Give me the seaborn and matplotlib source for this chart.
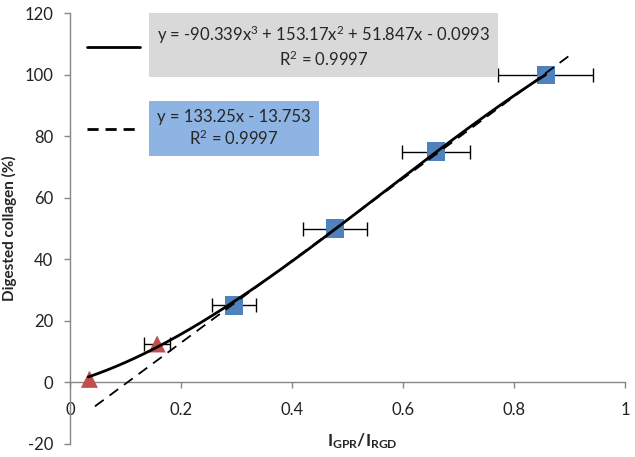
import numpy as np
import pandas as pd
import matplotlib.pyplot as plt
import seaborn as sns
from matplotlib.lines import Line2D

# data
ratio_tri = [0.035, 0.157]
digested_tri = [1.0, 12.5]
xerr_tri = [0.0, 0.023]

ratio_sq = [0.295, 0.478, 0.660, 0.857]
digested_sq = [25, 50, 75, 100]
xerr_sq = [0.040, 0.058, 0.061, 0.085]

# trendline coefficients as printed on the chart
cubic_coef = [-90.339, 153.17, 51.847, -0.0993]
linear_coef = [133.25, -13.753]
cubic_range = [0.033, 0.857]
linear_range = [0.045, 0.905]

sns.set_style("white")
plt.rcParams['font.family'] = ['Lato', 'DejaVu Sans']
plt.rcParams['axes.unicode_minus'] = False
plt.rcParams['mathtext.fontset'] = 'custom'
plt.rcParams['mathtext.rm'] = 'Lato'
plt.rcParams['mathtext.it'] = 'Lato:italic'
plt.rcParams['mathtext.bf'] = 'Lato:bold'

fig = plt.figure(figsize=(6.35, 4.57), dpi=100)
ax = fig.add_axes([70 / 635, 1 - 444 / 457, 555 / 635, 431 / 457])

# error bars (under the markers)
ax.errorbar(ratio_tri, digested_tri, xerr=xerr_tri, fmt='none', ecolor='black',
            elinewidth=1, capsize=5, capthick=1, zorder=2)
ax.errorbar(ratio_sq, digested_sq, xerr=xerr_sq, fmt='none', ecolor='black',
            elinewidth=1, capsize=5, capthick=1, zorder=2)

tri_df = pd.DataFrame({"ratio": ratio_tri, "digested": digested_tri})
sq_df = pd.DataFrame({"ratio": ratio_sq, "digested": digested_sq})
sns.scatterplot(data=tri_df, x="ratio", y="digested", marker="^", s=150,
                color="#c0504d", edgecolor="none", ax=ax, zorder=3)
sns.scatterplot(data=sq_df, x="ratio", y="digested", marker="s", s=170,
                color="#4f81bd", edgecolor="none", ax=ax, zorder=3)

# trendlines
xc = np.linspace(cubic_range[0], cubic_range[1], 200)
xl = np.linspace(linear_range[0], linear_range[1], 50)
ax.plot(xl, np.polyval(linear_coef, xl), color="black", lw=1.3, ls=(0, (6, 4)), zorder=4)
ax.plot(xc, np.polyval(cubic_coef, xc), color="black", lw=2, zorder=5)

ax.set_xlim(0, 1)
ax.set_ylim(-20, 120)
ax.set_xticks([0, 0.2, 0.4, 0.6, 0.8, 1])
ax.set_xticklabels(["0", "0.2", "0.4", "0.6", "0.8", "1"])
ax.set_yticks(range(-20, 121, 20))

for s in ["top", "right"]:
    ax.spines[s].set_visible(False)
ax.spines["bottom"].set_position(("data", 0))
for s in ["left", "bottom"]:
    ax.spines[s].set_color("#868686")
    ax.spines[s].set_linewidth(1)
ax.tick_params(axis="both", direction="out", length=4, width=1, color="#868686",
               labelsize=12, labelcolor="#222222", bottom=True, left=True)
ax.tick_params(axis="x", pad=10)
ax.tick_params(axis="y", pad=8)

ax.set_ylabel("Digested collagen (%)", fontsize=11, fontweight="bold")
ax.yaxis.set_label_coords(-0.095, 0.5)
ax.set_xlabel(r"$\mathbf{I_{GPR}/I_{RGD}}$", fontsize=12.5)
ax.xaxis.set_label_coords(0.526, 0.03)

handles = [Line2D([], [], color="black", lw=2),
           Line2D([], [], color="black", lw=2, ls=(0, (4, 2.5)))]
labels = ["y = -90.339x$^3$ + 153.17x$^2$ + 51.847x - 0.0993\nR$^2$ = 0.9997",
          "y = 133.25x - 13.753\nR$^2$ = 0.9997"]
leg = ax.legend(handles, labels, loc="upper left", bbox_to_anchor=(17 / 555, 0.975),
                frameon=False, borderaxespad=0, borderpad=0, fontsize=12,
                handlelength=3.2, handletextpad=1.0, labelspacing=2.4)
for t, fc in zip(leg.get_texts(), ["#d9d9d9", "#8db4e2"]):
    t.set_multialignment("center")
    t.set_bbox(dict(facecolor=fc, edgecolor="none", pad=6))

fig.savefig("out.png", dpi=100)
